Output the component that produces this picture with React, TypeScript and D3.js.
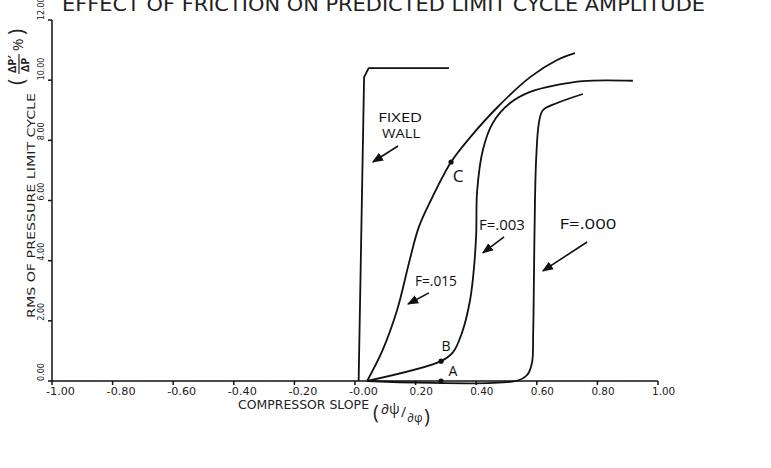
import * as d3 from "d3";

const WIDTH = 771;
const HEIGHT = 468;
const PLOT = { left: 52, right: 658, top: 20, bottom: 381 };

const TITLE = "EFFECT OF FRICTION ON PREDICTED LIMIT CYCLE AMPLITUDE";
const X_TITLE = "COMPRESSOR SLOPE";
const Y_TITLE = "RMS OF PRESSURE LIMIT CYCLE";

const xTicks = [-1, -0.8, -0.6, -0.4, -0.2, 0, 0.2, 0.4, 0.6, 0.8, 1];
const xTickLabels = ["-1.00", "-0.80", "-0.60", "-0.40", "-0.20", "-0.00", "0.20", "0.40", "0.60", "0.80", "1.00"];
const yTicks = [0, 2, 4, 6, 8, 10, 12];
const yTickLabels = ["0.00", "2.00", "4.00", "6.00", "8.00", "10.00", "12.00"];

// curves: [slope, rms %]
const fixedWall: [number, number][] = [[0.012, 0], [0.03, 10.1], [0.045, 10.4], [0.31, 10.4]];
const f015: [number, number][] = [
  [0.04, 0], [0.09, 1.0], [0.139, 2.36], [0.18, 4.0], [0.21, 5.1], [0.25, 6.0],
  [0.317, 7.28], [0.38, 8.1], [0.47, 9.1], [0.578, 10.1], [0.667, 10.67], [0.726, 10.9],
];
const f003: [number, number][] = [
  [0.04, 0], [0.284, 0.66], [0.323, 0.95], [0.353, 1.6], [0.38, 2.7], [0.393, 3.8],
  [0.4, 4.9], [0.403, 6.3], [0.422, 7.68], [0.455, 8.58], [0.512, 9.24], [0.578, 9.61],
  [0.667, 9.84], [0.752, 9.97], [0.917, 9.98],
];
const f000: [number, number][] = [
  [0.04, 0], [0.53, 0], [0.568, 0.2], [0.584, 0.6], [0.588, 1.6], [0.591, 3.8],
  [0.594, 6.0], [0.598, 7.4], [0.607, 8.58], [0.62, 9.0], [0.667, 9.24], [0.752, 9.54],
];

const markedPoints: [number, number][] = [[0.317, 7.28], [0.284, 0.66], [0.284, 0]];

type Note = { text: string; x: number; y: number; size: number; len?: number };
const notes: Note[] = [
  { text: "FIXED", x: 0.149, y: 8.74, size: 13, len: 44 },
  { text: "WALL", x: 0.152, y: 8.2, size: 13, len: 38 },
  { text: "C", x: 0.34, y: 6.78, size: 17 },
  { text: "F=.003", x: 0.485, y: 5.15, size: 14, len: 46 },
  { text: "F=.000", x: 0.769, y: 5.19, size: 15, len: 57 },
  { text: "F=.015", x: 0.267, y: 3.29, size: 14, len: 42 },
  { text: "B", x: 0.3, y: 1.13, size: 14 },
  { text: "A", x: 0.323, y: 0.3, size: 14 },
];

// arrows: [fromX, fromY, toX, toY]
const arrows: [number, number, number, number][] = [
  [0.142, 7.81, 0.059, 7.28],
  [0.492, 4.79, 0.422, 4.26],
  [0.766, 4.62, 0.62, 3.66],
  [0.244, 2.93, 0.175, 2.56],
];

const PLOT_FONT = "'DejaVu Sans', sans-serif";
const HAND_FONT = "'Open Sans', 'DejaVu Sans', sans-serif";

export default function App() {
  const xScale = d3.scaleLinear().domain([-1, 1]).range([PLOT.left, PLOT.right]);
  const yScale = d3.scaleLinear().domain([0, 12]).range([PLOT.bottom, PLOT.top]);

  const smooth = d3
    .line<[number, number]>()
    .x((d) => xScale(d[0]))
    .y((d) => yScale(d[1]))
    .curve(d3.curveCatmullRom.alpha(0.5));
  const straight = d3
    .line<[number, number]>()
    .x((d) => xScale(d[0]))
    .y((d) => yScale(d[1]));

  return (
    <svg
      width={WIDTH}
      height={HEIGHT}
      style={{ position: "absolute", left: 0, top: 0, background: "#fff" }}
    >
      <defs>
        <marker id="head" viewBox="0 0 10 10" refX="9" refY="5" markerWidth="7" markerHeight="7" orient="auto">
          <path d="M0,1 L10,5 L0,9 Z" fill="#111" />
        </marker>
      </defs>

      {/* title, cut at the top edge like the scan */}
      <text
        x={62}
        y={11}
        fontFamily={PLOT_FONT}
        fontSize={20}
        textLength={643}
        lengthAdjust="spacingAndGlyphs"
        fill="#222"
      >
        {TITLE}
      </text>

      {/* axes */}
      <g stroke="#111" strokeWidth={1.5} fill="none">
        <line x1={PLOT.left} x2={PLOT.right} y1={PLOT.bottom} y2={PLOT.bottom} />
        <line x1={PLOT.left} x2={PLOT.left} y1={PLOT.bottom} y2={PLOT.top} />
        {xTicks.map((t) => (
          <line key={t} x1={xScale(t)} x2={xScale(t)} y1={PLOT.bottom} y2={PLOT.bottom + 4} />
        ))}
        {yTicks.map((t) => (
          <line key={t} x1={PLOT.left - 4} x2={PLOT.left} y1={yScale(t)} y2={yScale(t)} />
        ))}
      </g>

      {xTicks.map((t, i) => (
        <text
          key={t}
          x={xScale(t) - 6}
          y={PLOT.bottom + 14}
          fontFamily={PLOT_FONT}
          fontSize={11}
          textLength={xTickLabels[i].length * 5.8}
          lengthAdjust="spacingAndGlyphs"
          fill="#222"
        >
          {xTickLabels[i]}
        </text>
      ))}
      {yTicks.map((t, i) => (
        <text
          key={t}
          transform={`translate(${PLOT.left - 8},${yScale(t)}) rotate(-90)`}
          fontFamily={PLOT_FONT}
          fontSize={9}
          textLength={yTickLabels[i].length * 4.5}
          lengthAdjust="spacingAndGlyphs"
          fill="#222"
        >
          {yTickLabels[i]}
        </text>
      ))}

      {/* x axis title */}
      <text
        x={238}
        y={409}
        fontFamily={PLOT_FONT}
        fontSize={12}
        textLength={131}
        lengthAdjust="spacingAndGlyphs"
        fill="#222"
      >
        {X_TITLE}
      </text>
      <g fontFamily={HAND_FONT} fill="#222">
        <text x={373} y={419} fontSize={20}>(</text>
        <text x={381} y={414} fontSize={14}>∂ψ</text>
        <text x={401} y={417} fontSize={14}>/</text>
        <text x={407} y={422} fontSize={12}>∂φ</text>
        <text x={424} y={423} fontSize={20}>)</text>
      </g>

      {/* y axis title */}
      <text
        transform={`translate(35,318) rotate(-90)`}
        fontFamily={PLOT_FONT}
        fontSize={10}
        textLength={225}
        lengthAdjust="spacingAndGlyphs"
        fill="#222"
      >
        {Y_TITLE}
      </text>
      <g transform="translate(18,53) rotate(-90)" fontFamily={HAND_FONT} fill="#222">
        <text x={-32} y={6} fontSize={21}>(</text>
        <text x={-20} y={-2} fontSize={11} fontWeight="bold">ΔP′</text>
        <line x1={-21} x2={-1} y1={1} y2={1} stroke="#222" strokeWidth={1.2} />
        <text x={-19} y={11} fontSize={11} fontWeight="bold">ΔP</text>
        <text x={2} y={5} fontSize={15}>%</text>
        <text x={18} y={6} fontSize={21}>)</text>
      </g>

      {/* curves */}
      <g fill="none" stroke="#111" strokeWidth={1.8} strokeLinejoin="round">
        <path d={straight(fixedWall) ?? ""} />
        <path d={smooth(f015) ?? ""} />
        <path d={smooth(f003) ?? ""} />
        <path d={smooth(f000) ?? ""} />
      </g>

      {markedPoints.map(([x, y], i) => (
        <circle key={i} cx={xScale(x)} cy={yScale(y)} r={2.6} fill="#111" />
      ))}

      {/* hand lettering */}
      {notes.map((n) => (
        <text
          key={n.text}
          x={xScale(n.x)}
          y={yScale(n.y)}
          textAnchor="middle"
          dominantBaseline="middle"
          fontFamily={HAND_FONT}
          fontSize={n.size}
          textLength={n.len}
          lengthAdjust={n.len ? "spacingAndGlyphs" : undefined}
          fill="#111"
        >
          {n.text}
        </text>
      ))}
      {arrows.map(([x1, y1, x2, y2], i) => (
        <line
          key={i}
          x1={xScale(x1)}
          y1={yScale(y1)}
          x2={xScale(x2)}
          y2={yScale(y2)}
          stroke="#111"
          strokeWidth={1.6}
          markerEnd="url(#head)"
        />
      ))}
    </svg>
  );
}
